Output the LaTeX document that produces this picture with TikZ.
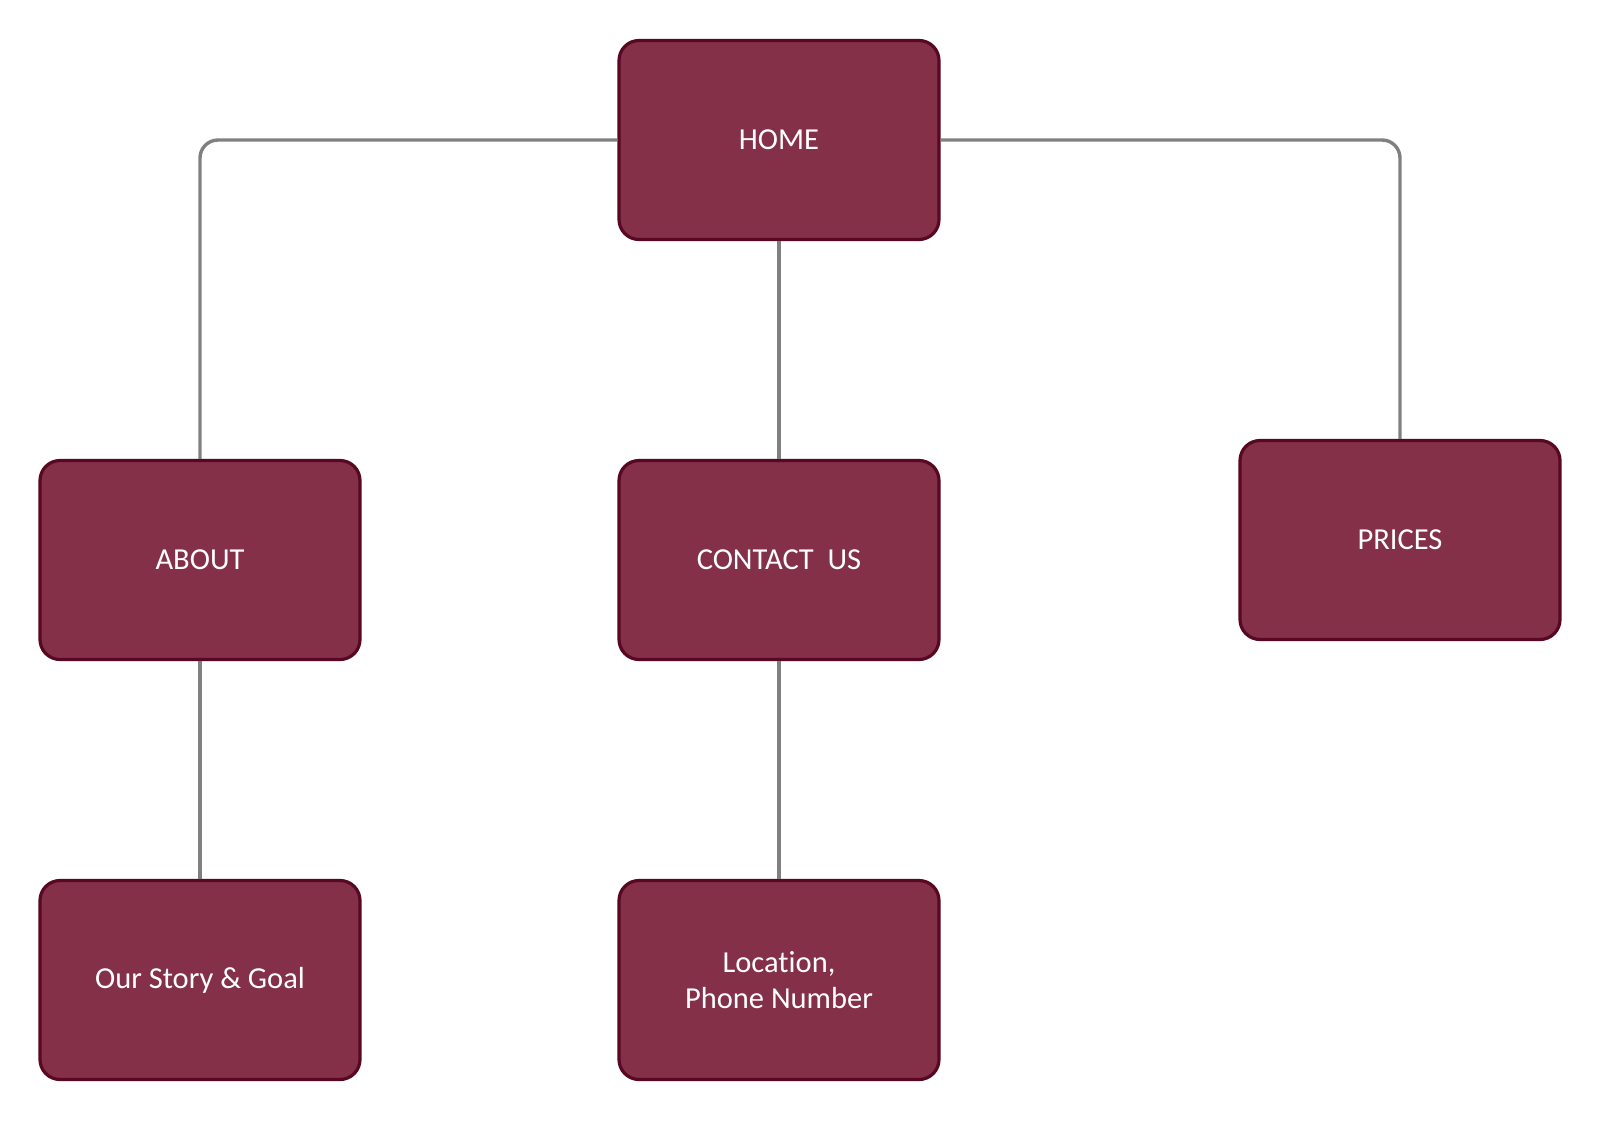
\documentclass[tikz,border=0pt]{standalone}
\usepackage{fontspec}
\setmainfont{Carlito}[Ligatures={NoCommon}]
\usepackage{tikz}
\usepackage{xcolor}
\usetikzlibrary{positioning}
\definecolor{pagefill}{RGB}{131,48,72}
\definecolor{pageedge}{RGB}{88,8,34}
\definecolor{linkgray}{RGB}{128,128,128}

\begin{document}
\begin{tikzpicture}[x=1pt, y=-1pt,
    page/.style={rectangle, rounded corners=20pt, draw=pageedge, line width=3.2pt, fill=pagefill,
        minimum width=320pt, minimum height=199pt, text=white, align=center,
        font=\fontsize{30.5}{36}\selectfont},
    link/.style={draw=linkgray, line width=3.4pt, rounded corners=18pt}]
                        \useasboundingbox (0, 0) rectangle (1600, 1120);
                        \node[page] (home) at (779, 140) {HOME};
                        \node[page] (about) at (200, 560) {ABOUT};
                        \node[page] (contact) at (779, 560) {CONTACT~ US};
                        \node[page] (prices) at (1400, 540) {PRICES};
                        \node[page] (story) at (200, 980) {Our Story \& Goal};
                        \node[page] (location) at (779, 980) {Location,\\Phone Number};
                        \draw[link]
                        (home.west) -| (about.north);
                        \draw[link]
                        (home.east) -| (prices.north);
                        \draw[link]
                        (home.south) -- (contact.north);
                        \draw[link]
                        (about.south) -- (story.north);
                        \draw[link]
                        (contact.south) -- (location.north);
                    \end{tikzpicture}
\end{document}
